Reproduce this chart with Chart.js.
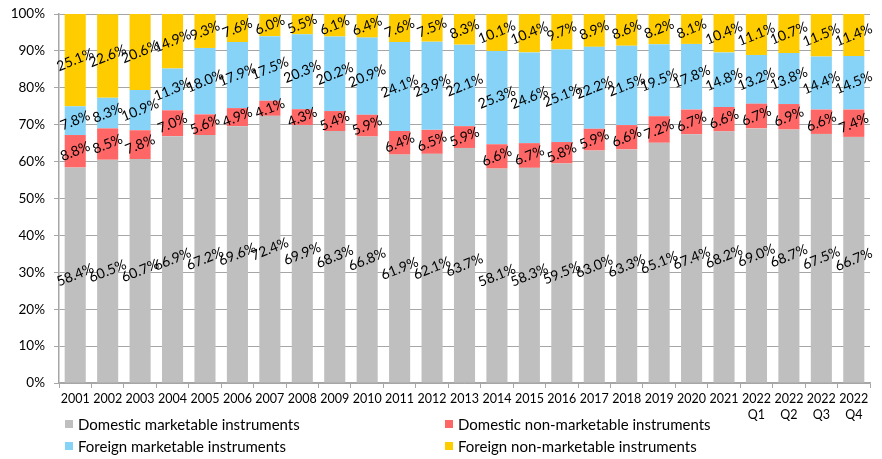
<!DOCTYPE html>
<html>
<head>
<meta charset="utf-8">
<script src="https://cdn.jsdelivr.net/npm/chart.js@4/dist/chart.umd.min.js"></script>
<style>
  html, body { margin: 0; padding: 0; background: #fff; }
  #wrap { position: relative; width: 882px; height: 459px; }
  canvas { position: absolute; left: 0; top: 0; }
  .leg { position: absolute; font-family: Lato, "Open Sans", sans-serif; font-size: 15px; color: #000; white-space: nowrap; line-height: 16px; }
  .sw { position: absolute; width: 8px; height: 8px; }
</style>
</head>
<body>
<div id="wrap">
  <canvas id="c" width="882" height="459"></canvas>
  <div id="legend"></div>
</div>
<script>
const categories = ["2001","2002","2003","2004","2005","2006","2007","2008","2009","2010","2011","2012","2013","2014","2015","2016","2017","2018","2019","2020","2021",["2022","Q1"],["2022","Q2"],["2022","Q3"],["2022","Q4"]];
const domesticMarketable = [58.4,60.5,60.7,66.9,67.2,69.6,72.4,69.9,68.3,66.8,61.9,62.1,63.7,58.1,58.3,59.5,63.0,63.3,65.1,67.4,68.2,69.0,68.7,67.5,66.7];
const domesticNonMarketable = [8.8,8.5,7.8,7.0,5.6,4.9,4.1,4.3,5.4,5.9,6.4,6.5,5.9,6.6,6.7,5.8,5.9,6.6,7.2,6.7,6.6,6.7,6.9,6.6,7.4];
const foreignMarketable = [7.8,8.3,10.9,11.3,18.0,17.9,17.5,20.3,20.2,20.9,24.1,23.9,22.1,25.3,24.6,25.1,22.2,21.5,19.5,17.8,14.8,13.2,13.8,14.4,14.5];
const foreignNonMarketable = [25.1,22.6,20.6,14.9,9.3,7.6,6.0,5.5,6.1,6.4,7.6,7.5,8.3,10.1,10.4,9.7,8.9,8.6,8.2,8.1,10.4,11.1,10.7,11.5,11.4];
const yTicks = [0,10,20,30,40,50,60,70,80,90,100];
const seriesNames = ["Domestic marketable instruments","Domestic non-marketable instruments","Foreign marketable instruments","Foreign non-marketable instruments"];
const colors = ["#BFBFBF","#FF6666","#87D3F8","#FFCC00"];

const FONT = 'Lato, "Open Sans", sans-serif';

const labelPlugin = {
  id: 'segLabels',
  afterDatasetsDraw(chart) {
    const ctx = chart.ctx;
    ctx.save();
    ctx.font = '14px ' + FONT;
    ctx.fillStyle = '#000';
    ctx.textAlign = 'center';
    ctx.textBaseline = 'middle';
    chart.data.datasets.forEach((ds, di) => {
      const meta = chart.getDatasetMeta(di);
      meta.data.forEach((el, i) => {
        const v = ds.data[i];
        const x = el.x;
        const y = (el.y + el.base) / 2;
        ctx.save();
        ctx.translate(x, y);
        ctx.rotate(-22 * Math.PI / 180);
        ctx.fillText(v.toFixed(1) + '%', 0, 0);
        ctx.restore();
      });
    });
    ctx.restore();
  }
};

const data = {
  labels: categories,
  datasets: [domesticMarketable, domesticNonMarketable, foreignMarketable, foreignNonMarketable].map((arr, k) => ({
    label: seriesNames[k],
    data: arr,
    backgroundColor: colors[k],
    borderWidth: 0,
    categoryPercentage: 1.0,
    barPercentage: 0.65
  }))
};

new Chart(document.getElementById('c'), {
  type: 'bar',
  data,
  plugins: [labelPlugin],
  options: {
    responsive: false,
    animation: false,
    layout: { padding: { left: 0, right: 12, top: 14, bottom: 0 } },
    plugins: { legend: { display: false }, tooltip: { enabled: false } },
    scales: {
      x: {
        stacked: true,
        grid: { display: true, drawOnChartArea: false, offset: true, color: '#A6A6A6', lineWidth: 1, tickLength: 5 },
        border: { color: '#A6A6A6', width: 1.5 },
        ticks: { color: '#000', font: { family: FONT, size: 12.5, lineHeight: 1.3 }, maxRotation: 0, minRotation: 0, autoSkip: false, padding: 3 },
        afterFit(scale) { scale.height = 76; scale.paddingLeft = 0; scale.paddingRight = 0; }
      },
      y: {
        stacked: true,
        min: 0, max: 100,
        afterBuildTicks(scale) { scale.ticks = yTicks.map(v => ({ value: v })); },
        grid: { color: '#A6A6A6', lineWidth: 1, tickLength: 5 },
        border: { color: '#A6A6A6', width: 1.5 },
        ticks: { color: '#000', font: { family: FONT, size: 13.5 }, padding: 9, callback: v => v + '%' },
        afterFit(scale) { scale.width = 59; scale.paddingTop = 0; scale.paddingBottom = 0; }
      }
    }
  }
});

// HTML legend (2 x 2 grid)
const legendPos = [[65, 416], [445, 416], [65, 438], [445, 438]];
const leg = document.getElementById('legend');
seriesNames.forEach((name, k) => {
  const sw = document.createElement('div');
  sw.className = 'sw';
  sw.style.left = legendPos[k][0] + 'px';
  sw.style.top = (legendPos[k][1] + 4) + 'px';
  sw.style.background = colors[k];
  leg.appendChild(sw);
  const t = document.createElement('div');
  t.className = 'leg';
  t.style.left = (legendPos[k][0] + 13) + 'px';
  t.style.top = legendPos[k][1] + 'px';
  t.textContent = name;
  leg.appendChild(t);
});
</script>
</body>
</html>
